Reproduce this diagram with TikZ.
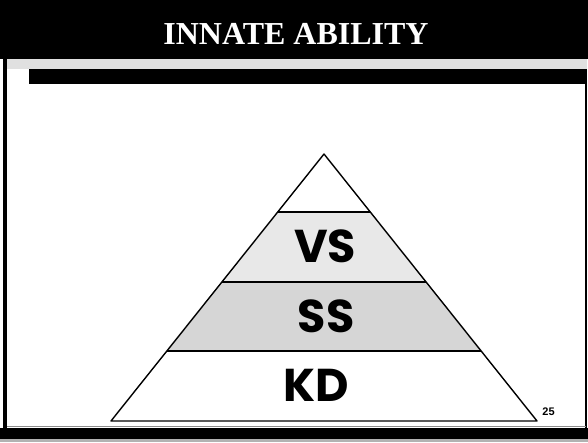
\documentclass[tikz,border=0pt]{standalone}
\usepackage{fontspec}
\setmainfont{Liberation Serif}
\newfontfamily\labfont{Poppins}
\newfontfamily\numfont{Liberation Sans}
\begin{document}
\begin{tikzpicture}[x=1pt,y=-1pt,
  bar/.style={fill=black},
  edge/.style={draw=black,line width=1.4pt,line join=round},
  band/.style={edge},
  lab/.style={inner sep=0pt,font=\labfont\bfseries\fontsize{46}{46}\selectfont},
]
\useasboundingbox (0,0) rectangle (588,442);
\fill[white] (0,0) rectangle (588,442);
% header
\fill[bar] (0,0) rectangle (588,59);
\fill[black!12] (7,59) rectangle (587,69);
\fill[bar] (29,69) rectangle (587,84);
% borders
\fill[bar] (3,0) rectangle (7,428);
\draw[black,line width=1.5pt] (586,84) -- (586,428);
\draw[black!45,line width=1pt] (7,426) -- (586,426);
\fill[bar] (0,428) rectangle (588,442);
\fill[black!30] (0,439) rectangle (588,442);
% title
\node[text=white,font=\bfseries\fontsize{32}{32}\selectfont,inner sep=0pt] (title) at (296,33.5) {INNATE ABILITY};
% pyramid bands
\coordinate (apex) at (324,154);
\coordinate (bl) at (111,421);
\coordinate (br) at (537,421);
\fill[black!9] (278,212) -- (370,212) -- (426,282) -- (222,282) -- cycle;
\fill[black!16] (222,282) -- (426,282) -- (481,351) -- (167,351) -- cycle;
\draw[band] (278,212) -- (370,212);
\draw[band] (222,282) -- (426,282);
\draw[band] (167,351) -- (481,351);
\draw[edge] (apex) -- (br) -- (bl) -- cycle;
% labels
\node[lab] (vs) at (325,246.5) {VS};
\node[lab] (ss) at (326,316) {SS};
\node[lab] (kd) at (316,385) {KD};
\node[inner sep=0pt,font=\numfont\bfseries\fontsize{11}{11}\selectfont] (num) at (548.5,411.5) {25};
\end{tikzpicture}
\end{document}
